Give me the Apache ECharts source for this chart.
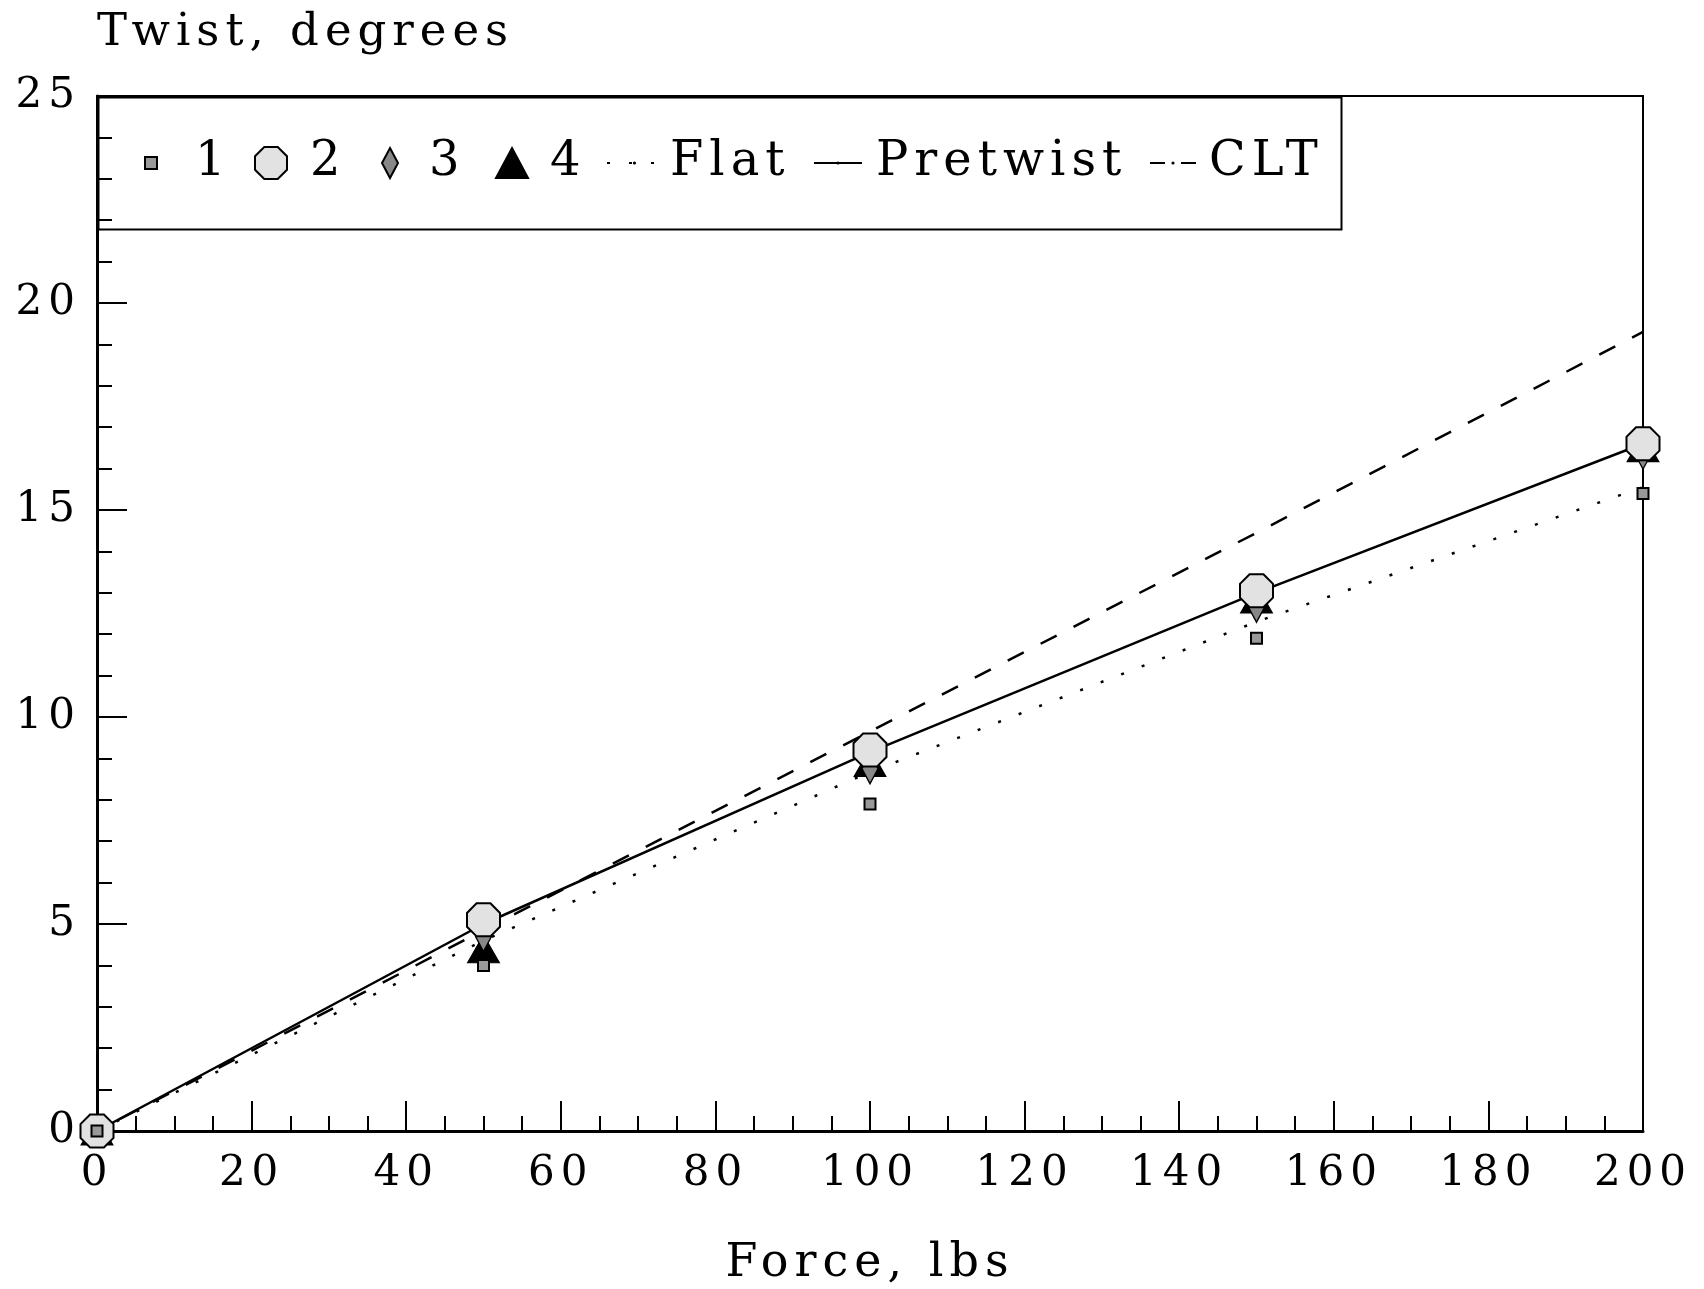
<!DOCTYPE html>
<html>
<head>
<meta charset="utf-8">
<title>Twist vs Force</title>
<script src="https://cdn.jsdelivr.net/npm/echarts@6/dist/echarts.min.js"></script>
<style>
  html, body { margin: 0; padding: 0; background: #fff; }
  #main { width: 1704px; height: 1289px; }
</style>
</head>
<body>
<div id="main"></div>
<script>
// data
var force = [0, 50, 100, 150, 200];
var twist1 = [0, 4.0, 7.9, 11.9, 15.4];
var twist2 = [0, 5.1, 9.2, 13.05, 16.6];
var twist3 = [0, 4.7, 8.75, 12.65, 16.35];
var twist4 = [0, 4.4, 8.9, 12.85, 16.5];
var flat = [0, 4.6, 8.67, 12.3, 15.55];
var pretwist = [0, 5.0, 9.15, 13.0, 16.6];
var clt = [0, 4.85, 9.65, 14.45, 19.3];

var FONT = 'DejaVu Serif';
var OCTAGON = 'path://M29,0 L71,0 L100,29 L100,71 L71,100 L29,100 L0,71 L0,29 Z';

function pairs(ys) {
    return force.map(function (x, i) { return [x, ys[i]]; });
}

// one legend per entry so each sits where it does in the original
function legendItem(name, left, w, h, pad, lineStyle) {
    var l = {
        data: [name],
        left: left,
        top: 139,
        orient: 'horizontal',
        itemWidth: w,
        itemHeight: h,
        padding: 0,
        textStyle: {
            fontFamily: FONT,
            fontSize: 48,
            color: '#000',
            padding: [0, 0, 0, pad],
            verticalAlign: 'middle'
        },
        selectedMode: false
    };
    if (lineStyle) {
        l.lineStyle = lineStyle;
    }
    return l;
}

var myChart = echarts.init(document.getElementById('main'));

var option = {
    animation: false,
    backgroundColor: '#fff',
    grid: {
        left: 97,
        right: 61,
        top: 96,
        bottom: 158,
        outerBoundsMode: 'none',
        show: true,
        borderColor: '#000',
        borderWidth: 2,
        backgroundColor: 'transparent'
    },
    graphic: [{
        type: 'rect',
        left: 96,
        top: 95,
        shape: { width: 1243, height: 132 },
        style: { fill: 'none', stroke: '#000', lineWidth: 2 },
        z: 10
    }],
    legend: [
        legendItem('1', 144, 12, 12, 33),
        legendItem('2', 254, 32, 32, 18),
        legendItem('3', 381, 16, 30, 26),
        legendItem('4', 495, 32, 30, 17),
        legendItem('Flat', 606, 55, 4, 3),
        legendItem('Pretwist', 813, 48, 4, 9),
        legendItem('CLT', 1149, 46, 4, 8, { type: [15, 16], dashOffset: 0 })
    ],
    xAxis: {
        type: 'value',
        min: 0,
        max: 200,
        interval: 20,
        name: 'Force, lbs',
        nameLocation: 'middle',
        nameGap: 110,
        nameTextStyle: { fontFamily: FONT, fontSize: 46, color: '#000' },
        axisLine: { lineStyle: { color: '#000', width: 3 } },
        axisTick: { inside: true, length: 30, lineStyle: { color: '#000', width: 2 } },
        minorTick: { show: true, splitNumber: 4, length: 15, lineStyle: { color: '#000', width: 2 } },
        axisLabel: { fontFamily: FONT, fontSize: 42, color: '#000', margin: 22 },
        splitLine: { show: false }
    },
    yAxis: {
        type: 'value',
        min: 0,
        max: 25,
        interval: 5,
        name: 'Twist, degrees',
        nameLocation: 'end',
        nameGap: 63,
        nameTextStyle: { fontFamily: FONT, fontSize: 45, color: '#000', align: 'left', verticalAlign: 'middle' },
        axisLine: { lineStyle: { color: '#000', width: 3 } },
        axisTick: { inside: true, length: 30, lineStyle: { color: '#000', width: 2 } },
        minorTick: { show: true, splitNumber: 5, length: 15, lineStyle: { color: '#000', width: 2 } },
        axisLabel: { fontFamily: FONT, fontSize: 42, color: '#000', margin: 16 },
        splitLine: { show: false }
    },
    series: [
        {
            name: 'Flat', type: 'line', data: pairs(flat), symbol: 'none', z: 2,
            lineStyle: { color: '#000', width: 2.5, type: [3, 19] },
            itemStyle: { color: '#000' }
        },
        {
            name: 'Pretwist', type: 'line', data: pairs(pretwist), symbol: 'none', z: 2,
            lineStyle: { color: '#000', width: 2.5, type: 'solid' },
            itemStyle: { color: '#000' }
        },
        {
            name: 'CLT', type: 'line', data: pairs(clt), symbol: 'none', z: 2,
            lineStyle: { color: '#000', width: 2.5, type: [18, 19], dashOffset: 11 },
            itemStyle: { color: '#000' }
        },
        {
            name: '4', type: 'scatter', data: pairs(twist4), symbol: 'triangle', symbolSize: [32, 28], z: 3,
            itemStyle: { color: '#000', borderColor: '#000', borderWidth: 1, opacity: 1 }
        },
        {
            name: '3', type: 'scatter', data: pairs(twist3), symbol: 'diamond', symbolSize: [16, 30], z: 4,
            itemStyle: { color: '#888', borderColor: '#000', borderWidth: 1.5, opacity: 1 }
        },
        {
            name: '2', type: 'scatter', data: pairs(twist2), symbol: OCTAGON, symbolSize: 33, z: 5,
            itemStyle: { color: '#e2e2e2', borderColor: '#000', borderWidth: 2, opacity: 1 }
        },
        {
            name: '1', type: 'scatter', data: pairs(twist1), symbol: 'rect', symbolSize: 11, z: 6,
            itemStyle: { color: '#999', borderColor: '#000', borderWidth: 2, opacity: 1 }
        }
    ]
};

myChart.setOption(option);

// the old plot uses widely tracked type; widen the canvas letter spacing and repaint
var zr = myChart.getZr();
zr.painter.eachLayer(function (layer) {
    if (layer.ctx) {
        layer.ctx.letterSpacing = '6px';
    }
});
zr.painter.refresh(true);
</script>
</body>
</html>
